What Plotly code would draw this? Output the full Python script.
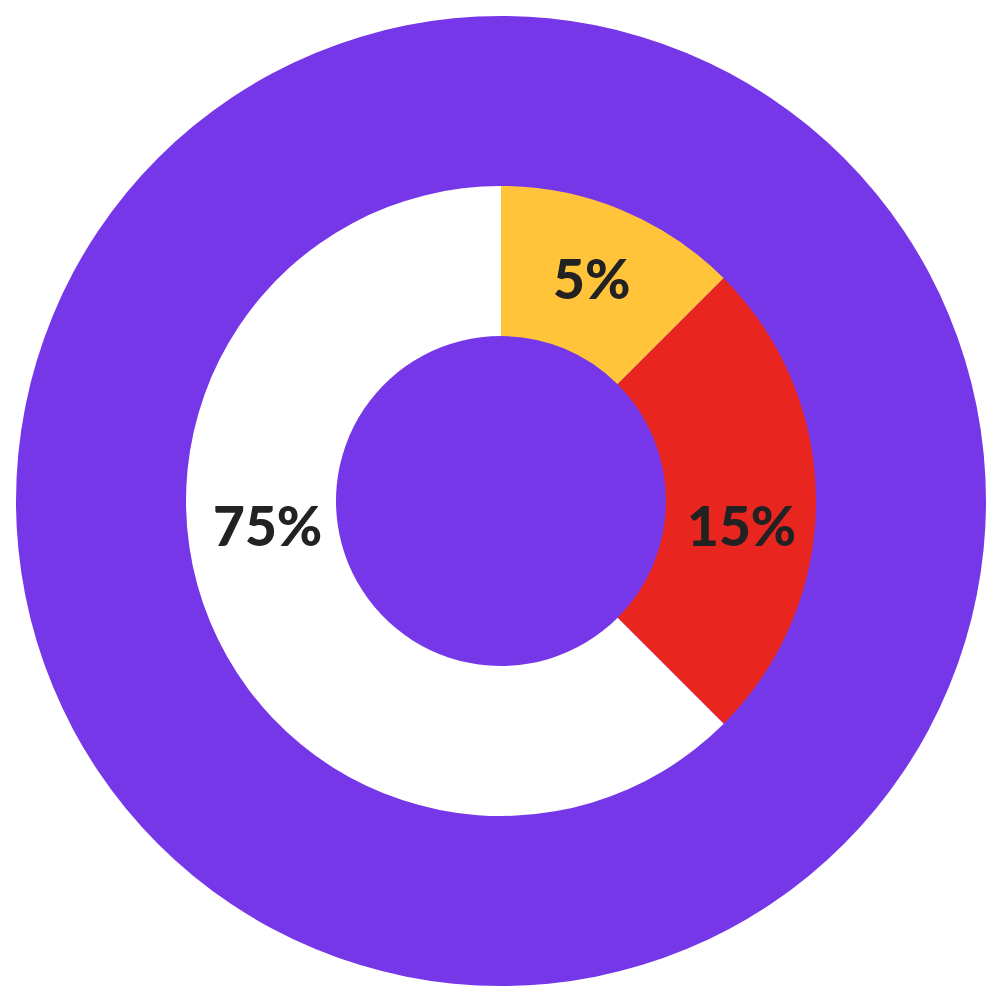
import plotly.graph_objects as go

# Slice shares as drawn (angles) and their printed labels
segments = ["Yellow", "Red", "White"]
shares = [12.5, 25, 62.5]
labels = ["5%", "15%", "75%"]
colors = ["#FFC43A", "#E8261F", "#FFFFFF"]
# label anchor positions (paper coords)
label_x = [0.590, 0.740, 0.266]
label_y = [0.723, 0.476, 0.476]

PURPLE = "#7637E9"
DX = -0.007  # compensate page offset
DY = 0.007

fig = go.Figure()
fig.add_trace(go.Pie(
    labels=segments,
    values=shares,
    marker=dict(colors=colors, line=dict(width=0)),
    sort=False,
    direction="clockwise",
    rotation=0,
    hole=165 / 315,
    textinfo="none",
    hoverinfo="skip",
    showlegend=False,
    domain=dict(x=[0.185 + DX, 0.815 + DX], y=[0.185 + DY, 0.815 + DY]),
))

fig.add_shape(type="circle", xref="paper", yref="paper",
              x0=0.015 + DX, x1=0.985 + DX, y0=0.015 + DY, y1=0.985 + DY,
              fillcolor=PURPLE, line=dict(width=0), layer="below")
fig.add_shape(type="circle", xref="paper", yref="paper",
              x0=0.335 + DX, x1=0.665 + DX, y0=0.335 + DY, y1=0.665 + DY,
              fillcolor=PURPLE, line=dict(width=0), layer="below")

for t, x, y in zip(labels, label_x, label_y):
    fig.add_annotation(text=t, x=x + DX, y=y + DY, xref="paper", yref="paper",
                       showarrow=False, xanchor="center", yanchor="middle",
                       font=dict(family="Lato", size=55, color="#222222", weight=900))

fig.update_layout(
    width=1000, height=1000,
    margin=dict(l=0, r=0, t=0, b=0),
    paper_bgcolor="white", plot_bgcolor="white",
)
fig.write_html("out.html")
